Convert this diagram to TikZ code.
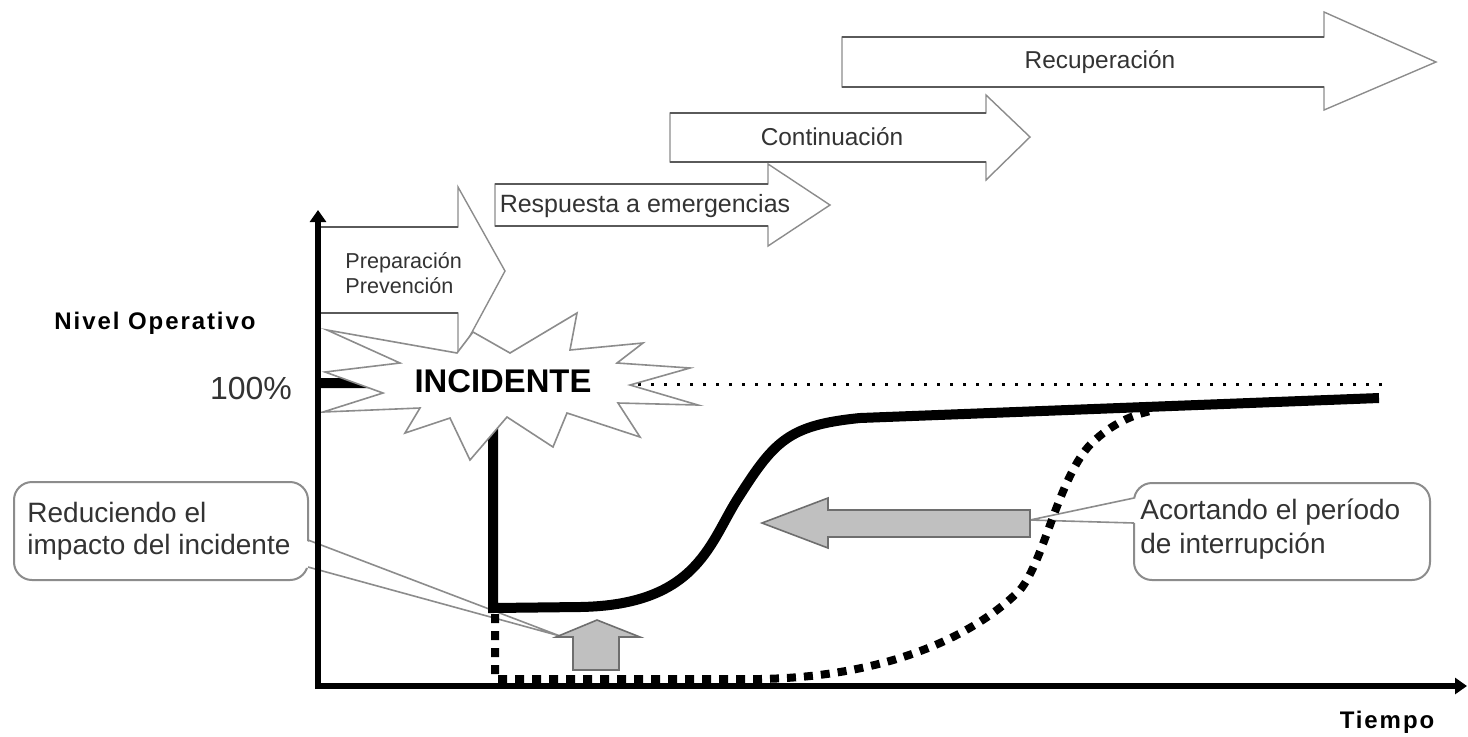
\documentclass[tikz,border=0pt]{standalone}
\usepackage{fontspec}
\setmainfont{Liberation Sans}
\newfontfamily\lblfont{Liberation Sans}[LetterSpace=8]
\usetikzlibrary{arrows.meta}
\definecolor{edge}{HTML}{8C8C8C}
\definecolor{edgedark}{HTML}{5A5A5A}
\definecolor{grayfill}{HTML}{C0C0C0}
\definecolor{grayedge}{HTML}{6E6E6E}
\definecolor{txt}{HTML}{333333}
\begin{document}
\begin{tikzpicture}[x=0.5pt,y=-0.5pt,
 phase/.style={fill=white,draw=edge,line width=0.7pt,line join=miter},
 phaserim/.style={draw=edgedark,line width=1.3pt},
 phasetext/.style={text=txt,inner sep=0pt,font=\fontsize{12.2}{14}\selectfont},
 preptext/.style={text=txt,inner sep=0pt,anchor=base west,font=\fontsize{10.8}{13}\selectfont},
 callbox/.style={fill=white,draw=edge,line width=1pt,rounded corners=9pt},
 callline/.style={draw=edge,line width=0.8pt},
 calltext/.style={text=txt,inner sep=0pt,anchor=base west,font=\fontsize{14}{16}\selectfont},
 grayarrow/.style={fill=grayfill,draw=grayedge,line width=0.8pt,line join=miter},
 burst/.style={fill=white,draw=edge,line width=0.8pt,line join=miter},
 axisline/.style={line width=3pt,-{Triangle[width=8pt,length=6pt]}},
 level/.style={line width=5pt,line join=miter},
 lowlevel/.style={line width=4pt,dash pattern=on 4.5pt off 4pt},
 fullline/.style={line width=1.5pt,dash pattern=on 1.5pt off 5pt},
 axislabel/.style={inner sep=0pt,font=\lblfont\bfseries\fontsize{12}{14}\selectfont}
]
\useasboundingbox (0,0) rectangle (1468,736);
\fill[white] (0,0) rectangle (1468,736);

% phase arrows
\path[phase] (842,37) -- (1324,37) -- (1324,12) -- (1436,62) -- (1324,110) -- (1324,87) -- (842,87) -- cycle;
\draw[phaserim] (842,37) -- (1324,37) (842,87) -- (1324,87);
\node[phasetext] (nrec) at (1100,62) {Recuperación};

\path[phase] (670,113) -- (986,113) -- (986,95) -- (1030,137) -- (986,180) -- (986,162) -- (670,162) -- cycle;
\draw[phaserim] (670,113) -- (986,113) (670,162) -- (986,162);
\node[phasetext] (ncont) at (832,137) {Continuación};

\path[phase] (495,184) -- (768,184) -- (768,164) -- (830,205) -- (768,246) -- (768,226) -- (495,226) -- cycle;
\draw[phaserim] (495,184) -- (768,184) (495,226) -- (768,226);
\node[phasetext,font=\fontsize{12.5}{14}\selectfont] (nresp) at (645,206) {Respuesta a emergencias};

\path[phase] (318,227) -- (458,227) -- (458,187) -- (505,271) -- (458,358) -- (458,313) -- (318,313) -- cycle;
\draw[phaserim] (318,227) -- (458,227) (318,313) -- (458,313);
\node[preptext] (nprep1) at (345,268) {Preparación};
\node[preptext] (nprep2) at (345,293) {Prevención};

% callouts
\path[callbox] (14,482) rectangle (308,580);
\fill[white] (304,540) -- (560,636) -- (304,567) -- cycle;
\draw[callline] (308,540) -- (560,636) -- (308,567);
\node[calltext] (nred1) at (27,522) {Reduciendo el};
\node[calltext] (nred2) at (27,554) {impacto del incidente};

\path[callbox] (1134,483) rectangle (1430,580);
\fill[white] (1138,498) -- (1030,520) -- (1138,523) -- cycle;
\draw[callline] (1134,498) -- (1030,520) -- (1134,523);
\node[calltext] (nac1) at (1140,519) {Acortando el período};
\node[calltext] (nac2) at (1140,553) {de interrupción};

% levels
\draw[fullline] (560,384) -- (1385,384);
\draw[level] (318,383) -- (493,383) -- (493,608) -- (580,607)
  .. controls (700,605) and (710,540) .. (740,495)
  .. controls (775,440) and (790,425) .. (860,418) -- (1379,398);
\draw[lowlevel] (495,614) -- (495,679) -- (760,679)
  .. controls (880,677) and (970,640) .. (1020,590)
  .. controls (1045,560) and (1060,470) .. (1095,440)
  .. controls (1115,422) and (1135,414) .. (1155,410);

% gray arrows
\path[grayarrow] (1030,510) -- (828,510) -- (828,498) -- (762,523) -- (828,548) -- (828,537) -- (1030,537) -- cycle;
\path[grayarrow] (573,670) -- (573,637) -- (556,637) -- (597,620) -- (640,637) -- (619,637) -- (619,670) -- cycle;

% burst
\path[burst] (327,330) -- (457,353) -- (473,332) -- (510,353) -- (577,313) -- (570,350)
  -- (643,343) -- (617,363) -- (690,368) -- (630,385) -- (698,405) -- (618,403)
  -- (640,437) -- (567,413) -- (553,447) -- (507,417) -- (470,460) -- (450,418)
  -- (405,433) -- (420,408) -- (323,412) -- (383,393) -- (325,372) -- (400,363) -- cycle;
\node[inner sep=0pt,font=\bfseries\fontsize{16.4}{18}\selectfont] (ninc) at (503,381) {INCIDENTE};

% axes
\coordinate (origin) at (318,686);
\coordinate (ytop) at (318,210);
\coordinate (xend) at (1467,686);
\draw[axisline] (318,689) -- (ytop);
\draw[axisline] (316.5,686) -- (xend);

% labels
\node[axislabel] (nnivel) at (155,323) {Nivel Operativo};
\node[inner sep=0pt,text=txt,font=\fontsize{16}{18}\selectfont] (ncien) at (251,388) {100\%};
\node[axislabel] (ntiempo) at (1387,722) {Tiempo};
\end{tikzpicture}
\end{document}
